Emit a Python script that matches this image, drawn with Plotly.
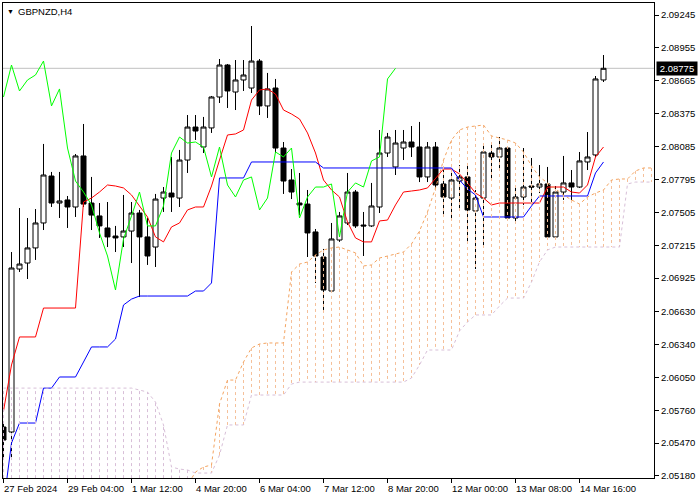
import plotly.graph_objects as go

symbol_title = "GBPNZD,H4"

open_ = [2.05612, 2.05568, 2.07005, 2.07058, 2.07191, 2.07411, 2.07825, 2.07587, 2.07614, 2.07552,
         2.08002, 2.07587, 2.07473, 2.07367, 2.07296, 2.07288, 2.07340, 2.07499, 2.07288, 2.07199,
         2.07631, 2.07675, 2.07631, 2.07966, 2.08257, 2.08081, 2.08249, 2.08522, 2.08804, 2.08566,
         2.08672, 2.08601, 2.08839, 2.08443, 2.08601, 2.08072, 2.07790, 2.07587, 2.07578, 2.07332,
         2.07111, 2.06811, 2.07261, 2.07411, 2.07684, 2.07393, 2.07385, 2.07552, 2.08028, 2.07905,
         2.08072, 2.08125, 2.08081, 2.07817, 2.08081, 2.07755, 2.07631, 2.07781, 2.07817, 2.07517,
         2.07631, 2.08028, 2.07993, 2.08072, 2.07455, 2.07640, 2.07737, 2.07728, 2.07755, 2.07288,
         2.07684, 2.07764, 2.07728, 2.07949, 2.08011, 2.08672]
high = [2.05656, 2.07155, 2.07543, 2.07455, 2.07534, 2.08108, 2.07861, 2.07861, 2.07649, 2.08019,
        2.08284, 2.07817, 2.07587, 2.07596, 2.07385, 2.07658, 2.07596, 2.07526, 2.07455, 2.07667,
        2.07728, 2.07993, 2.08055, 2.08363, 2.08363, 2.08346, 2.08531, 2.08857, 2.08813, 2.08848,
        2.08848, 2.09148, 2.08857, 2.08734, 2.08681, 2.08125, 2.07887, 2.07852, 2.07702, 2.07358,
        2.07182, 2.07411, 2.07508, 2.07852, 2.07702, 2.07508, 2.07764, 2.08231, 2.08205, 2.08231,
        2.08231, 2.08266, 2.08302, 2.08125, 2.08125, 2.07878, 2.07852, 2.07922, 2.07940, 2.07702,
        2.08116, 2.08099, 2.08169, 2.08081, 2.07720, 2.08072, 2.07984, 2.07922, 2.07905, 2.07737,
        2.08002, 2.07878, 2.08037, 2.08213, 2.08707, 2.08892]
low = [2.05321, 2.05347, 2.06979, 2.06917, 2.07085, 2.07349, 2.07552, 2.07455, 2.07367, 2.07464,
       2.07552, 2.07349, 2.07279, 2.07199, 2.07155, 2.07199, 2.07058, 2.06758, 2.07041, 2.07023,
       2.07508, 2.07508, 2.07552, 2.07852, 2.08143, 2.08028, 2.08205, 2.08469, 2.08425, 2.08407,
       2.08575, 2.08557, 2.08363, 2.08337, 2.08028, 2.07667, 2.07622, 2.07481, 2.07111, 2.06882,
       2.06644, 2.06802, 2.07244, 2.07393, 2.07367, 2.07120, 2.07376, 2.07499, 2.07993, 2.07834,
       2.07966, 2.07993, 2.07772, 2.07772, 2.07702, 2.07464, 2.07455, 2.07543, 2.07226, 2.07005,
       2.07217, 2.07790, 2.07878, 2.07437, 2.07420, 2.07570, 2.07570, 2.07675, 2.07279, 2.07279,
       2.07614, 2.07596, 2.07720, 2.07878, 2.07993, 2.08654]
close = [2.05497, 2.07014, 2.07049, 2.07191, 2.07411, 2.07834, 2.07587, 2.07605, 2.07552, 2.08002,
         2.07578, 2.07481, 2.07385, 2.07288, 2.07279, 2.07340, 2.07499, 2.07288, 2.07120, 2.07622,
         2.07684, 2.07640, 2.07966, 2.08257, 2.08222, 2.08257, 2.08522, 2.08804, 2.08575, 2.08672,
         2.08716, 2.08839, 2.08443, 2.08593, 2.08072, 2.07781, 2.07684, 2.07570, 2.07323, 2.07120,
         2.06820, 2.07270, 2.07473, 2.07684, 2.07385, 2.07385, 2.07561, 2.08028, 2.08169, 2.08116,
         2.08125, 2.08081, 2.07817, 2.08081, 2.07746, 2.07640, 2.07790, 2.07817, 2.07526, 2.07631,
         2.08037, 2.07993, 2.08072, 2.07455, 2.07640, 2.07728, 2.07728, 2.07755, 2.07288, 2.07684,
         2.07764, 2.07728, 2.07958, 2.07993, 2.08681, 2.08775]

tenkan = [2.05753, 2.06159, 2.06406, 2.06406, 2.06406, 2.06661, 2.06661, 2.06661, 2.06661, 2.06661,
          2.07596, 2.07631, 2.07684, 2.07746, 2.07737, 2.07720, 2.07658, 2.07561, 2.07464, 2.07288,
          2.07244, 2.07376, 2.07411, 2.07526, 2.07552, 2.07552, 2.07737, 2.07966, 2.08187, 2.08196,
          2.08231, 2.08495, 2.08584, 2.08593, 2.08548, 2.08407, 2.08372, 2.08328, 2.08205, 2.08028,
          2.07790, 2.07702, 2.07640, 2.07420, 2.07279, 2.07244, 2.07244, 2.07429, 2.07437, 2.07570,
          2.07684, 2.07693, 2.07702, 2.07720, 2.07808, 2.07887, 2.07887, 2.07843, 2.07764, 2.07675,
          2.07631, 2.07570, 2.07587, 2.07587, 2.07587, 2.07587, 2.07587, 2.07587, 2.07728, 2.07728,
          2.07728, 2.07684, 2.07675, 2.07746, 2.07993, 2.08081]
kijun = [2.04924, 2.05471, 2.05647, 2.05647, 2.05647, 2.05955, 2.05955, 2.06053, 2.06053, 2.06053,
         2.06185, 2.06318, 2.06318, 2.06318, 2.06388, 2.06688, 2.06740, 2.06767, 2.06767, 2.06767,
         2.06767, 2.06767, 2.06767, 2.06767, 2.06811, 2.06811, 2.06882, 2.07808, 2.07808, 2.07808,
         2.07808, 2.07949, 2.07949, 2.07949, 2.07949, 2.07949, 2.07949, 2.07949, 2.07949, 2.07949,
         2.07896, 2.07896, 2.07896, 2.07896, 2.07896, 2.07896, 2.07896, 2.07896, 2.07896, 2.07896,
         2.07896, 2.07896, 2.07896, 2.07896, 2.07896, 2.07896, 2.07896, 2.07790, 2.07711, 2.07658,
         2.07464, 2.07464, 2.07464, 2.07464, 2.07464, 2.07464, 2.07561, 2.07649, 2.07649, 2.07649,
         2.07649, 2.07649, 2.07649, 2.07649, 2.07852, 2.07949]

# Senkou spans (already shifted 26 bars forward), one value per bar slot 0..81
span_a = [2.04950] * 21 + [2.05000, 2.05050, 2.05100,
          2.05215, 2.05259, 2.05277, 2.05815, 2.06026, 2.06026, 2.06185, 2.06309, 2.06344, 2.06353,
          2.06353, 2.06353, 2.06979, 2.07049, 2.07067, 2.07129, 2.07173, 2.07191, 2.07199, 2.07173,
          2.07147, 2.07032, 2.07041, 2.07102, 2.07120, 2.07138, 2.07155, 2.07226, 2.07340, 2.07508,
          2.07720, 2.07966, 2.08143, 2.08231, 2.08257, 2.08266, 2.08275, 2.08178, 2.08160, 2.08143,
          2.08116, 2.08037, 2.07914, 2.07817, 2.07764, 2.07711, 2.07658, 2.07614, 2.07578, 2.07640,
          2.07675, 2.07702, 2.07790, 2.07799, 2.07799, 2.07870, 2.07896, 2.07896]
span_b = [2.05955] * 17 + [2.05938, 2.05920, 2.05832, 2.05630, 2.05259, 2.05241, 2.05233,
          2.05206, 2.05206, 2.05206, 2.05365, 2.05630, 2.05630, 2.05630, 2.05894, 2.05894, 2.05894,
          2.05894, 2.05894, 2.05991] + [2.06008] * 14 + [2.06044, 2.06159, 2.06291,
          2.06291, 2.06291, 2.06291, 2.06459, 2.06538, 2.06600, 2.06600, 2.06600, 2.06679, 2.06749,
          2.06749, 2.06749, 2.06890, 2.07067, 2.07173] + [2.07199] * 9 + [2.07755, 2.07772, 2.07772, 2.07772]

tick_pos = [0, 8, 16, 24, 32, 40, 48, 56, 64, 72]
tick_labels = ["27 Feb 2024", "29 Feb 04:00", "1 Mar 12:00", "4 Mar 20:00", "6 Mar 04:00",
               "7 Mar 12:00", "8 Mar 20:00", "12 Mar 00:00", "13 Mar 08:00", "14 Mar 16:00"]
price_tick_labels = ["2.09245", "2.08955", "2.08665", "2.08375", "2.08085", "2.07795", "2.07505",
                     "2.07215", "2.06925", "2.06630", "2.06340", "2.06050", "2.05760", "2.05470", "2.05180"]
last_price = 2.08775
chikou_shift = 26

FONT = "Liberation Sans, Arial, sans-serif"
SANDY = "#F4A460"
SANDY_HATCH = "#F5C09A"
THISTLE = "#D8BFD8"
idx = list(range(len(close)))
cloud_idx = list(range(len(span_a)))

fig = go.Figure()

fig.add_trace(go.Candlestick(
    x=idx, open=open_, high=high, low=low, close=close,
    increasing=dict(line=dict(color="black", width=1), fillcolor="white"),
    decreasing=dict(line=dict(color="black", width=1), fillcolor="black"),
    whiskerwidth=0, showlegend=False, hoverinfo="skip"))

fig.add_trace(go.Scatter(x=idx, y=tenkan, mode="lines", line=dict(color="#FF0000", width=1),
                         showlegend=False, hoverinfo="skip"))
fig.add_trace(go.Scatter(x=idx, y=kijun, mode="lines", line=dict(color="#0000FF", width=1),
                         showlegend=False, hoverinfo="skip"))

# Kumo hatch: one dotted vertical per bar slot, coloured by which span is on top
thin_x, thin_y, sandy_x, sandy_y = [], [], [], []
for i in cloud_idx:
    if span_b[i] > span_a[i]:
        thin_x += [i, i, None]
        thin_y += [span_a[i], span_b[i], None]
    else:
        sandy_x += [i, i, None]
        sandy_y += [span_a[i], span_b[i], None]
fig.add_trace(go.Scatter(x=thin_x, y=thin_y, mode="lines", line=dict(color=THISTLE, width=1, dash="3px,3px"),
                         showlegend=False, hoverinfo="skip"))
fig.add_trace(go.Scatter(x=sandy_x, y=sandy_y, mode="lines", line=dict(color=SANDY_HATCH, width=1, dash="3px,3px"),
                         showlegend=False, hoverinfo="skip"))

chikou_x = idx[:len(close) - chikou_shift]
chikou_y = close[chikou_shift:]
fig.add_trace(go.Scatter(x=chikou_x, y=chikou_y, mode="lines", line=dict(color="#00FF00", width=1),
                         showlegend=False, hoverinfo="skip"))
fig.add_trace(go.Scatter(x=cloud_idx, y=span_a, mode="lines", line=dict(color=SANDY, width=1, dash="3px,3px"),
                         showlegend=False, hoverinfo="skip"))
fig.add_trace(go.Scatter(x=cloud_idx, y=span_b, mode="lines", line=dict(color=THISTLE, width=1, dash="3px,3px"),
                         showlegend=False, hoverinfo="skip"))

fig.add_shape(type="line", xref="paper", x0=0, x1=1, yref="y", y0=last_price, y1=last_price,
              line=dict(color="#C0C0C0", width=1), layer="below")

x0 = -0.0625
x1 = x0 + 651 / 8
y_top = 2.093508
y_bot = 2.051623

annotations = []
for p, t in zip(tick_pos, tick_labels):
    annotations.append(dict(x=p, y=0, xref="x", yref="paper", text=t, showarrow=False,
                            xanchor="left", yanchor="top", xshift=-2, yshift=-3,
                            font=dict(family=FONT, size=9.5, color="black")))
annotations.append(dict(x=1, y=last_price, xref="paper", yref="y", text=f"{last_price:.5f}",
                        showarrow=False, xanchor="left", yanchor="middle", xshift=2,
                        bgcolor="black", borderpad=1, width=38, height=11,
                        font=dict(family=FONT, size=9.5, color="white")))
annotations.append(dict(x=0, y=1, xref="paper", yref="paper", text="▼", showarrow=False,
                        xanchor="left", yanchor="top", xshift=2, yshift=-3,
                        font=dict(family=FONT, size=7, color="black")))
annotations.append(dict(x=0, y=1, xref="paper", yref="paper", text=symbol_title, showarrow=False,
                        xanchor="left", yanchor="top", xshift=13, yshift=-1,
                        font=dict(family=FONT, size=9.5, color="black")))

fig.update_layout(
    width=700, height=500,
    margin=dict(l=3, r=46, t=3, b=22),
    paper_bgcolor="white", plot_bgcolor="white",
    showlegend=False,
    boxgap=0.375, boxgroupgap=0,
    font=dict(family=FONT, size=9.5, color="black"),
    annotations=annotations,
    xaxis=dict(range=[x0, x1], showgrid=False, zeroline=False, rangeslider=dict(visible=False),
               showline=True, linecolor="black", linewidth=1, mirror=True,
               tickmode="array", tickvals=tick_pos, ticks="outside", ticklen=4, tickcolor="black",
               showticklabels=False, fixedrange=True),
    yaxis=dict(range=[y_bot, y_top], side="right", showgrid=False, zeroline=False,
               showline=True, linecolor="black", linewidth=1, mirror=True,
               tickmode="array", tickvals=[float(v) for v in price_tick_labels], ticktext=price_tick_labels,
               ticks="outside", ticklen=4, tickcolor="black",
               tickfont=dict(family=FONT, size=9.5, color="black"), fixedrange=True),
)

fig.write_html("out.html", config={"displayModeBar": False},
               post_script="document.body.style.margin='0';document.body.style.padding='0';")
